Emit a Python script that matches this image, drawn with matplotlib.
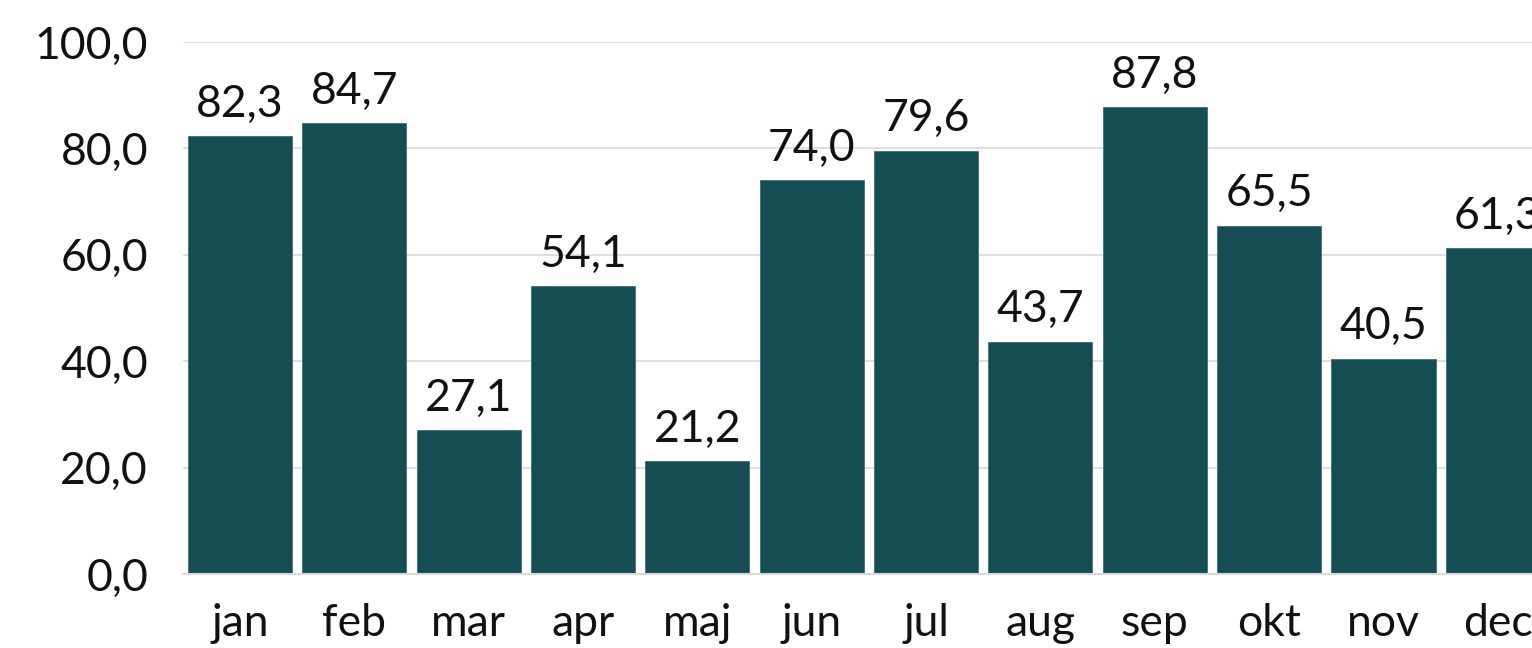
import matplotlib
matplotlib.use("Agg")
import matplotlib.pyplot as plt
from matplotlib.ticker import FuncFormatter, MultipleLocator

months = ["jan", "feb", "mar", "apr", "maj", "jun", "jul", "aug", "sep", "okt", "nov", "dec"]
values = [82.3, 84.7, 27.1, 54.1, 21.2, 74.0, 79.6, 43.7, 87.8, 65.5, 40.5, 61.3]

BAR_COLOR = "#144D52"
FONT = "Lato"
FS = 32

plt.rcParams['font.family'] = [FONT, 'DejaVu Sans']

fig = plt.figure(figsize=(15.32, 6.48), dpi=100)
ax = fig.add_axes([182.8 / 1532, 74 / 648, (1555 - 182.8) / 1532, 532 / 648])

x = list(range(len(months)))
bars = ax.bar(x, values, width=0.91, color=BAR_COLOR, edgecolor="#3F7175", linewidth=0.6, zorder=3)

def fmt(v):
    return f"{v:.1f}".replace(".", ",")

for xi, v in zip(x, values):
    ax.annotate(fmt(v), (xi, v), xytext=(0, 8), textcoords="offset points",
                ha="center", va="bottom", fontsize=FS, color="#111111", family=[FONT, 'DejaVu Sans'])

ax.set_xlim(-0.5, len(months) - 0.5)
ax.set_ylim(0, 100)
ax.yaxis.set_major_locator(MultipleLocator(20))
ax.yaxis.set_major_formatter(FuncFormatter(lambda v, p: fmt(v)))
ax.set_xticks(x)
ax.set_xticklabels(months)
ax.tick_params(axis="both", length=0, labelsize=FS, colors="#111111")
ax.tick_params(axis="x", pad=21)
ax.tick_params(axis="y", pad=25)
ax.grid(axis="y", color="#D9D9D9", linewidth=1.2, zorder=0)
for s in ["top", "right", "left"]:
    ax.spines[s].set_visible(False)
ax.spines["bottom"].set_color("#D9D9D9")
ax.spines["bottom"].set_linewidth(1.5)
ax.spines["bottom"].set_zorder(4)

fig.savefig("out.png", dpi=100)
